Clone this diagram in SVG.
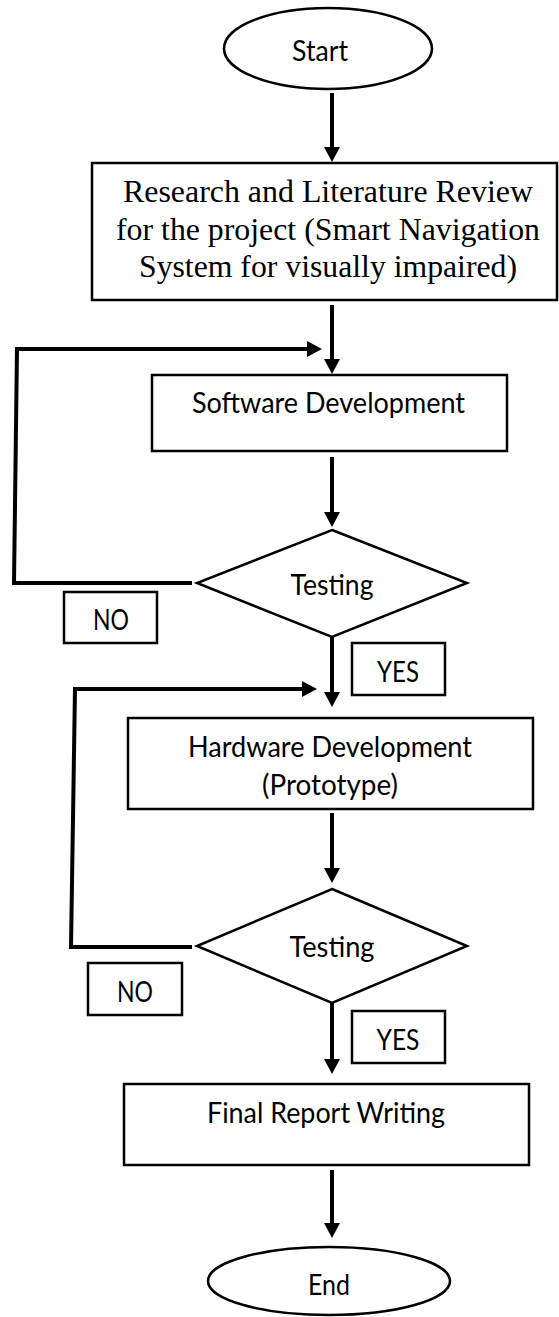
<svg xmlns="http://www.w3.org/2000/svg" width="559" height="1317" viewBox="0 0 559 1317">
  <style>
    .shape { fill: #ffffff; stroke: #000000; stroke-width: 2.5; }
    .flow { fill: none; stroke: #000000; stroke-width: 4; marker-end: url(#head); }
    .label { font-family: Lato, "Open Sans", sans-serif; font-size: 28px; fill: #000000; text-anchor: middle; }
    .serif { font-family: "Liberation Serif", "Times New Roman", serif; font-size: 32px; fill: #000000; text-anchor: middle; }
  </style>
  <defs>
    <marker id="head" viewBox="0 0 15 16" refX="5" refY="8" markerWidth="15" markerHeight="16" markerUnits="userSpaceOnUse" orient="auto">
      <path d="M0,0 L15,8 L0,16 Z" fill="#000000"/>
    </marker>
  </defs>

  <rect width="559" height="1317" fill="#ffffff"/>

  <!-- connectors -->
  <g id="connectors">
    <path class="flow" d="M332,93 L332,152"/>
    <path class="flow" d="M332,305 L332,364"/>
    <path class="flow" d="M332,457 L332,517"/>
    <path class="flow" d="M332,637 L332,697"/>
    <path class="flow" d="M332,813 L332,873"/>
    <path class="flow" d="M332,1003 L332,1064"/>
    <path class="flow" d="M332,1170 L332,1228"/>
    <!-- loop back from first test -->
    <path class="flow" d="M192,583 L14,583 L17,349 L312,349"/>
    <!-- loop back from second test -->
    <path class="flow" d="M192,947 L71,947 L75,689 L307,689"/>
  </g>

  <g id="start">
    <ellipse class="shape" cx="328" cy="48.5" rx="104" ry="40.5"/>
    <text class="label" x="320" y="61" textLength="56" lengthAdjust="spacingAndGlyphs">Start</text>
  </g>

  <g id="research">
    <rect class="shape" x="92" y="163" width="465" height="137"/>
    <text class="serif" x="328" y="202" textLength="410" lengthAdjust="spacingAndGlyphs">Research and Literature Review</text>
    <text class="serif" x="328" y="240" textLength="424" lengthAdjust="spacingAndGlyphs">for the project (Smart Navigation</text>
    <text class="serif" x="328" y="277" textLength="378" lengthAdjust="spacingAndGlyphs">System for visually impaired)</text>
  </g>

  <g id="software">
    <rect class="shape" x="152" y="375" width="355" height="76"/>
    <text class="label" x="328.5" y="413" textLength="273" lengthAdjust="spacingAndGlyphs">Software Development</text>
  </g>

  <g id="test-software">
    <polygon class="shape" points="332,530 467,583 332,637 197,583"/>
    <text class="label" x="332" y="595" textLength="83" lengthAdjust="spacingAndGlyphs">Testing</text>
  </g>

  <g id="no-software">
    <rect class="shape" x="64" y="592" width="93" height="51"/>
    <text class="label" x="111" y="630" textLength="36" lengthAdjust="spacingAndGlyphs">NO</text>
  </g>

  <g id="yes-software">
    <rect class="shape" x="352" y="643" width="93" height="52"/>
    <text class="label" x="398" y="682" textLength="42" lengthAdjust="spacingAndGlyphs">YES</text>
  </g>

  <g id="hardware">
    <rect class="shape" x="128" y="718" width="405" height="91"/>
    <text class="label" x="330" y="757" textLength="284" lengthAdjust="spacingAndGlyphs">Hardware Development</text>
    <text class="label" x="330" y="795" textLength="136" lengthAdjust="spacingAndGlyphs">(Prototype)</text>
  </g>

  <g id="test-hardware">
    <polygon class="shape" points="332,889 467,946 332,1003 197,946"/>
    <text class="label" x="332" y="957" textLength="85" lengthAdjust="spacingAndGlyphs">Testing</text>
  </g>

  <g id="no-hardware">
    <rect class="shape" x="88" y="963" width="94" height="52"/>
    <text class="label" x="135" y="1002" textLength="36" lengthAdjust="spacingAndGlyphs">NO</text>
  </g>

  <g id="yes-hardware">
    <rect class="shape" x="352" y="1011" width="93" height="52"/>
    <text class="label" x="398" y="1050" textLength="43" lengthAdjust="spacingAndGlyphs">YES</text>
  </g>

  <g id="report">
    <rect class="shape" x="124" y="1084" width="405" height="81"/>
    <text class="label" x="326" y="1123" textLength="238" lengthAdjust="spacingAndGlyphs">Final Report Writing</text>
  </g>

  <g id="end">
    <ellipse class="shape" cx="329" cy="1281" rx="121" ry="34"/>
    <text class="label" x="329" y="1295" textLength="42" lengthAdjust="spacingAndGlyphs">End</text>
  </g>
</svg>
